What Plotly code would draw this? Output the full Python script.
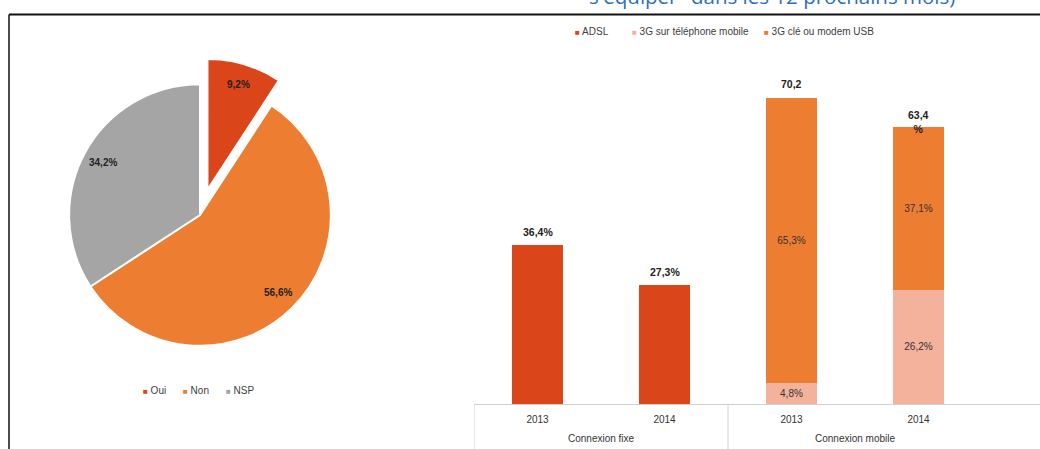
import math
import plotly.graph_objects as go

# --- Pie: intention to get equipped ---
pie_labels = ["Oui", "Non", "NSP"]
pie_values = [9.2, 56.6, 34.2]
pie_colors = ["#DA451A", "#ED7D31", "#A5A5A5"]
pie_pull = [0.2, 0, 0]

# --- Bars: connection type by year ---
groups = ["Connexion fixe", "Connexion fixe", "Connexion mobile", "Connexion mobile"]
years = ["2013", "2014", "2013", "2014"]
adsl = [36.4, 27.3, None, None]
g3_phone = [None, None, 4.8, 26.2]
g3_key = [None, None, 65.3, 37.1]
totals = [36.4, 27.3, 70.2, 63.4]
total_labels = ["36,4%", "27,3%", "70,2", "63,4<br>%"]

series_names = ["ADSL", "3G sur téléphone mobile", "3G clé ou modem USB"]
series_colors = ["#DA451A", "#F4B19C", "#ED7D31"]

title_text = "s'équiper\" dans les 12 prochains mois)"

W, H = 1040, 449
FONT = "Liberation Sans, Arial, sans-serif"


def pct(v):
    return None if v is None else f"{v:.1f}".replace(".", ",") + "%"


cats = [f"{g} {y}" for g, y in zip(groups, years)]

# pie placement (pixels from top-left)
pie_x0, pie_x1 = 43, 357
pie_y0, pie_y1 = 58, 372
pie_cx = (pie_x0 + pie_x1) / 2
pie_cy = (pie_y0 + pie_y1) / 2
pie_r = (pie_x1 - pie_x0) / 2 / (1 + max(pie_pull))

fig = go.Figure()

fig.add_trace(go.Pie(
    labels=pie_labels, values=pie_values, sort=False,
    direction="clockwise", rotation=0, pull=pie_pull,
    marker=dict(colors=pie_colors, line=dict(color="white", width=2)),
    textinfo="none", showlegend=False, hoverinfo="label+percent",
    domain=dict(x=[pie_x0 / W, pie_x1 / W], y=[1 - pie_y1 / H, 1 - pie_y0 / H]),
))

# slice labels placed toward the outer rim of each slice
total = sum(pie_values)
start = 0.0
for v, p in zip(pie_values, pie_pull):
    mid = (start + v / 2) / total * 2 * math.pi
    start += v
    rr = pie_r * (0.84 + p)
    lx = pie_cx + rr * math.sin(mid)
    ly = pie_cy - rr * math.cos(mid)
    fig.add_annotation(x=lx / W, xref="paper", y=1 - ly / H, yref="paper",
                       text=pct(v), showarrow=False,
                       xanchor="center", yanchor="middle",
                       font=dict(size=10, color="#222222", family=FONT, weight="bold"))

for name, vals, col in zip(series_names, [adsl, g3_phone, g3_key], series_colors):
    show_inside = name != "ADSL"
    fig.add_trace(go.Bar(
        x=cats, y=vals, name=name, marker=dict(color=col, line=dict(width=0)),
        text=[pct(v) for v in vals] if show_inside else None,
        textposition="inside" if show_inside else "none",
        insidetextanchor="middle", constraintext="none",
        textfont=dict(size=10, color="#333333", family=FONT),
        showlegend=False,
    ))

# totals above each column (a wrapped label dips into the bar top)
for c, t, lab in zip(cats, totals, total_labels):
    wrapped = "<br>" in lab
    fig.add_annotation(x=c, xref="x", y=t, yref="y", text=lab,
                       showarrow=False, xanchor="center", yanchor="bottom",
                       yshift=-10 if wrapped else 5,
                       font=dict(size=10.5, color="#222222", family=FONT, weight="bold"))

px_per_unit = 4.37
fig.update_layout(
    width=W, height=H, margin=dict(l=0, r=0, t=0, b=0),
    paper_bgcolor="white", plot_bgcolor="white",
    barmode="stack", bargap=0.6,
    font=dict(family=FONT, size=10, color="#404040"),
    xaxis=dict(
        domain=[474 / W, 1], type="category", categoryorder="array",
        categoryarray=cats, tickvals=cats, ticktext=years,
        range=[-0.5, -0.5 + (W - 474) / 127],
        showline=True, linecolor="#D0D0D0", linewidth=1,
        ticks="", showgrid=False, zeroline=False,
        tickfont=dict(size=10, color="#333333"), ticklabelstandoff=6,
    ),
    yaxis=dict(
        domain=[45 / H, 1], range=[0, (H - 45) / px_per_unit],
        visible=False, showgrid=False, zeroline=False,
    ),
)

# table-like separators under the bars
for xv in [-0.5, 1.5]:
    fig.add_shape(type="line", xref="x", yref="paper", x0=xv, x1=xv,
                  y0=0, y1=45 / H, line=dict(color="#D0D0D0", width=1))

# group labels
for xv, g in [(0.5, groups[0]), (2.5, groups[2])]:
    fig.add_annotation(x=xv, xref="x", y=(449 - 438) / H, yref="paper",
                       text=g, showarrow=False, yanchor="middle",
                       font=dict(size=10, color="#333333"))

# frame lines
fig.add_shape(type="line", xref="paper", yref="paper", x0=9 / W, x1=1,
              y0=1 - 14.5 / H, y1=1 - 14.5 / H, line=dict(color="#111111", width=2))
fig.add_shape(type="line", xref="paper", yref="paper", x0=9 / W, x1=9 / W,
              y0=0, y1=1 - 14.5 / H, line=dict(color="#111111", width=1.5))

# heading (its upper part runs past the top edge)
fig.add_annotation(x=772 / W, xref="paper", y=1 - 12 / H, yref="paper",
                   text=title_text, showarrow=False, xanchor="center",
                   yanchor="bottom",
                   font=dict(size=20.5, color="#2F6EBA", family="Open Sans, sans-serif"))


def legend_row(items, colors, xs, y):
    for label, col, xv in zip(items, colors, xs):
        fig.add_annotation(
            x=xv / W, xref="paper", y=1 - y / H, yref="paper",
            text=f"<span style='color:{col};font-size:8px'>■</span> {label}",
            showarrow=False, xanchor="left", yanchor="middle",
            font=dict(size=10, color="#404040"))


legend_row(series_names, series_colors, [573, 630, 762], 32)
legend_row(pie_labels, pie_colors, [141, 181, 224], 390)

fig.write_html("out.html")
